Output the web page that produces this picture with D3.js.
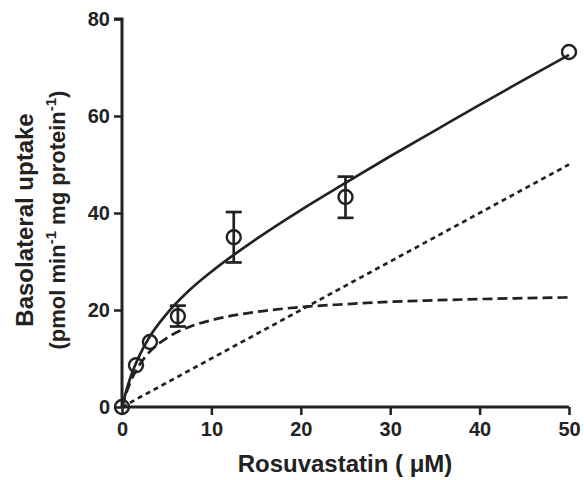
<!DOCTYPE html>
<html>
<head>
<meta charset="utf-8">
<script src="https://cdn.jsdelivr.net/npm/d3@7"></script>
<style>
  body { margin: 0; background: #fff; }
  text { font-family: "Liberation Sans", Arial, sans-serif; font-weight: bold; fill: #222; }
</style>
</head>
<body>
<div class="chart"></div>
<script>
// measured points
var conc = [0, 1.5625, 3.125, 6.25, 12.5, 25, 50];
var uptake = [0, 8.6, 13.4, 18.7, 35.0, 43.3, 73.2];
var errLow = [0, 8.6, 13.4, 16.6, 29.8, 39.0, 73.2];
var errHigh = [0, 8.6, 13.4, 20.9, 40.2, 47.5, 73.2];

// curves
var curveX = [0, 0.5, 1, 2, 3, 5, 7.5, 10, 15, 20, 25, 30, 35, 40, 45, 50];
var totalY = [0, 3.5, 6.4, 10.8, 14.2, 19.2, 24.0, 27.9, 34.6, 40.6, 46.2, 51.7, 57.0, 62.3, 67.5, 72.6];
var saturableY = [0, 3.0, 5.4, 8.8, 11.2, 14.2, 16.5, 17.9, 19.6, 20.6, 21.2, 21.7, 22.0, 22.25, 22.45, 22.6];
var passiveX = [0, 50];
var passiveY = [0, 50];

var xTicks = [0, 10, 20, 30, 40, 50];
var yTicks = [0, 20, 40, 60, 80];

var width = 584, height = 480;
var margin = { left: 122, right: 15, top: 19, bottom: 73 };

var svg = d3.select('.chart').append('svg')
    .attr('width', width)
    .attr('height', height);

var x = d3.scaleLinear().domain([0, 50]).range([margin.left, 569]);
var y = d3.scaleLinear().domain([0, 80]).range([407, margin.top]);

var ink = '#222';

function drawCurve(xs, ys, dash, curveType) {
  var line = d3.line()
      .x(function(d) { return x(d[0]); })
      .y(function(d) { return y(d[1]); })
      .curve(curveType);
  svg.append('path')
      .datum(d3.zip(xs, ys))
      .attr('d', line)
      .attr('fill', 'none')
      .attr('stroke', ink)
      .attr('stroke-width', 2.7)
      .attr('stroke-dasharray', dash);
}

drawCurve(passiveX, passiveY, '5,4', d3.curveLinear);
drawCurve(curveX, saturableY, '10,5', d3.curveMonotoneX);
drawCurve(curveX, totalY, null, d3.curveMonotoneX);

// error bars
var pts = d3.range(conc.length).map(function(i) {
  return { x: conc[i], y: uptake[i], lo: errLow[i], hi: errHigh[i] };
});
var bars = pts.filter(function(d) { return d.hi - d.lo > 0; });

svg.selectAll('.err')
    .data(bars)
    .enter()
    .append('line')
      .attr('x1', function(d) { return x(d.x); })
      .attr('x2', function(d) { return x(d.x); })
      .attr('y1', function(d) { return y(d.lo); })
      .attr('y2', function(d) { return y(d.hi); })
      .attr('stroke', ink)
      .attr('stroke-width', 2.7);

['lo', 'hi'].forEach(function(k) {
  svg.selectAll('.cap-' + k)
      .data(bars)
      .enter()
      .append('line')
        .attr('x1', function(d) { return x(d.x) - 8; })
        .attr('x2', function(d) { return x(d.x) + 8; })
        .attr('y1', function(d) { return y(d[k]); })
        .attr('y2', function(d) { return y(d[k]); })
        .attr('stroke', ink)
        .attr('stroke-width', 2.7);
});

svg.selectAll('circle')
    .data(pts)
    .enter()
    .append('circle')
      .attr('cx', function(d) { return x(d.x); })
      .attr('cy', function(d) { return y(d.y); })
      .attr('r', 7)
      .attr('fill', 'none')
      .attr('stroke', ink)
      .attr('stroke-width', 2.4);

// axes
var xAxis = svg.append('g')
    .attr('transform', 'translate(0,407)')
    .call(d3.axisBottom(x).tickValues(xTicks).tickSize(8).tickPadding(7));
var yAxis = svg.append('g')
    .attr('transform', 'translate(' + margin.left + ',0)')
    .call(d3.axisLeft(y).tickValues(yTicks).tickSize(8).tickPadding(4));

[xAxis, yAxis].forEach(function(g) {
  g.select('.domain').attr('stroke', ink).attr('stroke-width', 3);
  g.selectAll('.tick line').attr('stroke', ink).attr('stroke-width', 2.5);
  g.selectAll('.tick text')
      .attr('fill', ink)
      .style('font-size', '20px')
      .style('font-family', '"Liberation Sans", Arial, sans-serif')
      .style('font-weight', 'bold');
});
// plain axis lines, only the top cap on y
xAxis.select('.domain').attr('d', 'M' + x(0) + ',0H' + x(50));
yAxis.select('.domain').attr('d', 'M-8,' + y(80) + 'H0V' + y(0));

// titles
svg.append('text')
    .attr('x', 345)
    .attr('y', 472)
    .attr('text-anchor', 'middle')
    .style('font-size', '24px')
    .text('Rosuvastatin ( \u03bcM)');

var yt = svg.append('g').attr('transform', 'translate(33,220) rotate(-90)');
yt.append('text')
    .attr('text-anchor', 'middle')
    .style('font-size', '24px')
    .text('Basolateral uptake');

var t2 = yt.append('text')
    .attr('y', 32)
    .attr('text-anchor', 'middle')
    .style('font-size', '22px');
t2.append('tspan').text('(pmol min');
t2.append('tspan').attr('dy', -9).style('font-size', '15px').text('-1');
t2.append('tspan').attr('dy', 9).text(' mg protein');
t2.append('tspan').attr('dy', -9).style('font-size', '15px').text('-1');
t2.append('tspan').attr('dy', 9).text(')');
</script>
</body>
</html>
